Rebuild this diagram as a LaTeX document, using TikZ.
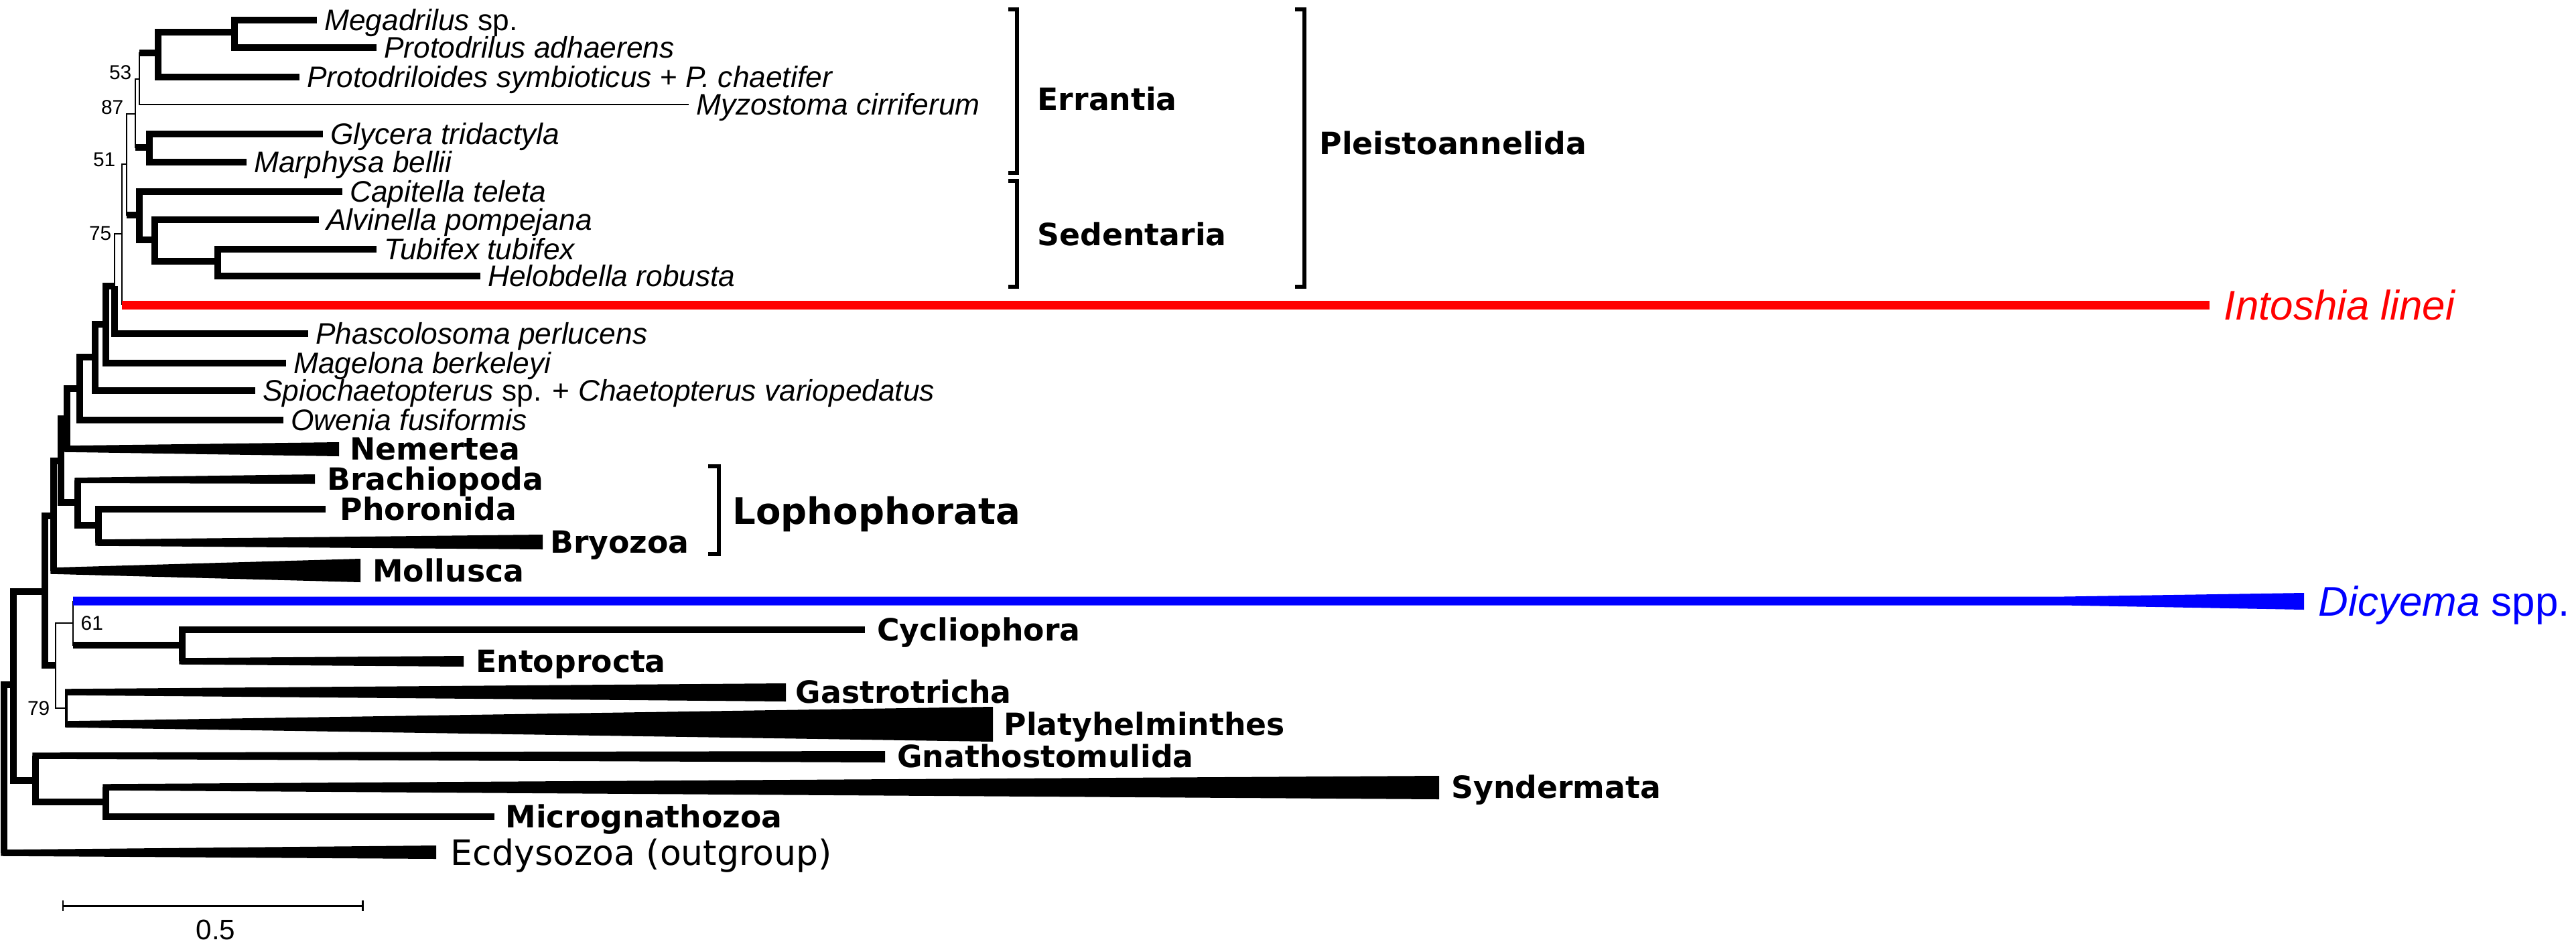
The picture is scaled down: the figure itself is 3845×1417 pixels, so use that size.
\documentclass[tikz,border=0pt]{standalone}
\usepackage{fontspec}
\setmainfont{Liberation Sans}
\newfontfamily\cladefont{DejaVu Sans}
\usetikzlibrary{calc,positioning}
\definecolor{IntoshiaRed}{HTML}{FF0000}
\definecolor{DicyemaBlue}{HTML}{0000FF}
\tikzset{
  br/.style={draw=black,line width=2.7pt},
  thinbr/.style={draw=black,line width=.7pt},
  midbr/.style={draw=black,line width=1.2pt},
  redbr/.style={draw=IntoshiaRed,line width=3.7pt},
  clade/.style={fill=black},
  bracket/.style={draw=black,line width=1.5pt},
  scalebar/.style={draw=black,line width=.85pt},
  taxon/.style={font=\fontsize{12.6}{14}\selectfont\itshape,text height=9pt,
    text depth=0pt,inner sep=0pt,anchor=west},
  group/.style={font=\cladefont\bfseries\fontsize{13}{15}\selectfont,text height=9.5pt,
    text depth=0pt,inner sep=0pt,anchor=west},
  lopho/.style={font=\cladefont\bfseries\fontsize{15.5}{18}\selectfont,text height=11.3pt,
    text depth=0pt,inner sep=0pt,anchor=west},
  outgroup/.style={font=\cladefont\fontsize{14.8}{17}\selectfont,text height=10.8pt,
    text depth=0pt,inner sep=0pt,anchor=west},
  bigtaxon/.style={font=\fontsize{17.6}{20}\selectfont,text height=12.6pt,
    text depth=0pt,inner sep=0pt,anchor=west},
  support/.style={font=\fontsize{8.5}{10}\selectfont,inner sep=0pt},
  scalelabel/.style={font=\fontsize{12}{14}\selectfont,inner sep=0pt}
}

\begin{document}
\begin{tikzpicture}[x=.01cm,y=-.01cm]
  \useasboundingbox (0,0) rectangle (3845,1417);
  % internal nodes (x of the vertical, y of the stem)
  \coordinate (nA) at (350,48);
  \coordinate (nB) at (236,79);
  \coordinate (nC) at (208,118);
  \coordinate (nD) at (202,170);
  \coordinate (nE) at (223,220);
  \coordinate (nF) at (189,245);
  \coordinate (nG) at (208,321);
  \coordinate (nH) at (231,358);
  \coordinate (nI) at (325,390);
  \coordinate (nJ) at (182,349);
  \coordinate (nK) at (171,427);
  \coordinate (nL) at (158,484);
  \coordinate (nM) at (142,533);
  \coordinate (nN) at (119,580);
  \coordinate (nO) at (100,625);
  \coordinate (nP) at (91,688);
  \coordinate (nLa) at (116,750);
  \coordinate (nLb) at (147,784);
  \coordinate (nQ) at (80,770);
  \coordinate (nR) at (67,883);
  \coordinate (nS) at (83,993);
  \coordinate (nT) at (109,930);
  \coordinate (nU) at (272,963);
  \coordinate (nV) at (99,1057);
  \coordinate (nW) at (20,1022);
  \coordinate (nX) at (53,1165);
  \coordinate (nY) at (158,1197);
  \coordinate (nZ) at (6,1148);

  % tips
  \coordinate (tMeg) at (473,30);
  \coordinate (tPdr) at (562,71);
  \coordinate (tPdl) at (447,115);
  \coordinate (tMyz) at (1028,156);
  \coordinate (tGly) at (482,200);
  \coordinate (tMar) at (368,242);
  \coordinate (tCap) at (511,286);
  \coordinate (tAlv) at (476,328);
  \coordinate (tTub) at (562,372);
  \coordinate (tHel) at (717,412);
  \coordinate (tInt) at (3298,455);
  \coordinate (tPha) at (460,498);
  \coordinate (tMag) at (427,542);
  \coordinate (tSpi) at (381,583);
  \coordinate (tOwe) at (423,627);
  \coordinate (tPho) at (486,760);
  \coordinate (tDic) at (3439,897);
  \coordinate (tCyc) at (1291,940);
  \coordinate (tMic) at (738,1219);

  % collapsed clades: start at the parent, end at the tip
  \coordinate (wNem) at (100,670);  \coordinate (tNem) at (506,670);
  \coordinate (wBra) at (116,717);  \coordinate (tBra) at (470,715);
  \coordinate (wBry) at (147,810);  \coordinate (tBry) at (810,809);
  \coordinate (wMol) at (80,852);   \coordinate (tMol) at (538,852);
  \coordinate (wEnt) at (272,987);  \coordinate (tEnt) at (692,987);
  \coordinate (wGas) at (99,1033);  \coordinate (tGas) at (1173,1033);
  \coordinate (wPla) at (99,1081);  \coordinate (tPla) at (1482,1081);
  \coordinate (wGna) at (53,1128);  \coordinate (tGna) at (1321,1129);
  \coordinate (wSyn) at (158,1175); \coordinate (tSyn) at (2148,1175);
  \coordinate (wEcd) at (6,1273);   \coordinate (tEcd) at (651,1272);

  % Pleistoannelida
  \draw[br] (nA) |- (tMeg);
  \draw[br] (nA) |- (tPdr);
  \draw[br] (nB) |- (nA);
  \draw[br] (nB) |- (tPdl);
  \draw[thinbr] (nC) |- (nB);
  \draw[br] (nC |- nB) -- (nB);
  \draw[thinbr] (nC) |- (tMyz);
  \draw[thinbr] (nD) |- (nC);
  \draw[thinbr] (nD) |- (nE);
  \draw[br] (nD |- nE) -- (nE);
  \draw[br] (nE) |- (tGly);
  \draw[br] (nE) |- (tMar);
  \draw[thinbr] (nF) |- (nD);
  \draw[thinbr] (nF) |- (nG);
  \draw[br] (nF |- nG) -- (nG);
  \draw[br] (nG) |- (tCap);
  \draw[br] (nG) |- (nH);
  \draw[br] (nH) |- (tAlv);
  \draw[br] (nH) |- (nI);
  \draw[br] (nI) |- (tTub);
  \draw[br] (nI) |- (tHel);
  \draw[thinbr] (nJ) |- (nF);
  \draw[thinbr] (nJ) -- (nJ |- tInt);
  \draw[redbr] (nJ |- tInt) -- (tInt);

  % rest of the Lophotrochozoa
  \draw[thinbr] (nK) |- (nJ);
  \draw[br] (nK) |- (tPha);
  \draw[br] (nL) |- (nK);
  \draw[br] (nL) |- (tMag);
  \draw[br] (nM) |- (nL);
  \draw[br] (nM) |- (tSpi);
  \draw[br] (nN) |- (nM);
  \draw[br] (nN) |- (tOwe);
  \draw[br] (nO) |- (nN);
  \draw[br] (nO) -- (wNem);
  \draw[br] (nP) |- (nO);
  \draw[br] (nP) |- (nLa);
  \draw[br] (nLa) -- (wBra);
  \draw[br] (nLa) |- (nLb);
  \draw[br] (nLb) |- (tPho);
  \draw[br] (nLb) -- (wBry);
  \draw[br] (nQ) |- (nP);
  \draw[br] (nQ) -- (wMol);
  \draw[br] (nR) |- (nQ);
  \draw[br] (nR) |- (nS);

  % Dicyema and the Platyzoa
  \draw[thinbr] (nS) |- (nT);
  \draw[thinbr] (nS) |- (nV);
  \draw[thinbr] (nT) -- (nT |- tDic);
  \fill[DicyemaBlue] ($(nT |- tDic)+(0,-6.5)$) -- (3080,890.5) -- ($(tDic)+(0,-12)$)
    -- ($(tDic)+(0,13)$) -- (3080,903.5) -- ($(nT |- tDic)+(0,6.5)$) -- cycle;
  \draw[thinbr] (nT) |- (nU);
  \draw[br] (nT |- nU) -- (nU);
  \draw[br] (nU) |- (tCyc);
  \draw[br] (nU) -- (wEnt);
  \draw[midbr] (nV) -- (wGas);
  \draw[midbr] (nV) -- (wPla);
  \draw[br] (nW) |- (nR);
  \draw[br] (nW) |- (nX);
  \draw[br] (nX) -- (wGna);
  \draw[br] (nX) |- (nY);
  \draw[br] (nY) -- (wSyn);
  \draw[br] (nY) |- (tMic);
  \draw[br] (nZ) |- (nW);
  \draw[br] (nZ) -- (wEcd);

  \fill[clade] ($(wNem)+(-4.7,-4.7)$) -- ($(tNem)+(0,-10)$) -- ($(tNem)+(0,11)$) -- ($(wNem)+(-4.7,4.7)$) -- cycle;
  \fill[clade] ($(wBra)+(-4.7,-4)$) -- ($(tBra)+(0,-7)$) -- ($(tBra)+(0,7)$) -- ($(wBra)+(-4.7,4)$) -- cycle;
  \fill[clade] ($(wBry)+(-4.7,-4.7)$) -- ($(tBry)+(0,-11)$) -- ($(tBry)+(0,11)$) -- ($(wBry)+(-4.7,4.7)$) -- cycle;
  \fill[clade] ($(wMol)+(-4.7,-4.7)$) -- ($(tMol)+(0,-18)$) -- ($(tMol)+(0,17)$) -- ($(wMol)+(-4.7,4.7)$) -- cycle;
  \fill[clade] ($(wEnt)+(-4.7,-4.7)$) -- ($(tEnt)+(0,-8)$) -- ($(tEnt)+(0,8)$) -- ($(wEnt)+(-4.7,4.7)$) -- cycle;
  \fill[clade] ($(wGas)+(-2,-4.7)$) -- ($(tGas)+(0,-13)$) -- ($(tGas)+(0,14)$) -- ($(wGas)+(-2,4.7)$) -- cycle;
  \fill[clade] ($(wPla)+(-2,-4.7)$) -- ($(tPla)+(0,-26)$) -- ($(tPla)+(0,26)$) -- ($(wPla)+(-2,4.7)$) -- cycle;
  \fill[clade] ($(wGna)+(-4.7,-4.7)$) -- ($(tGna)+(0,-8)$) -- ($(tGna)+(0,9)$) -- ($(wGna)+(-4.7,4.7)$) -- cycle;
  \fill[clade] ($(wSyn)+(-4.7,-4.7)$) -- ($(tSyn)+(0,-17)$) -- ($(tSyn)+(0,18)$) -- ($(wSyn)+(-4.7,4.7)$) -- cycle;
  \fill[clade] ($(wEcd)+(-4.7,-4.7)$) -- ($(tEcd)+(0,-10)$) -- ($(tEcd)+(0,10)$) -- ($(wEcd)+(-4.7,4.7)$) -- cycle;

  % support values
  \node[support,anchor=base east] (s53) at (197,118) {53};
  \node[support,anchor=base east] (s87) at (185,170) {87};
  \node[support,anchor=base east] (s51) at (173,248) {51};
  \node[support,anchor=base east] (s75) at (167,358) {75};
  \node[support,anchor=west] (s61) at (120,930) {61};
  \node[support,anchor=east] (s79) at (75,1057) {79};

  % tip labels
  \node[taxon,right=3pt of tMeg] (lMeg) {Megadrilus \textup{sp.}};
  \node[taxon,right=3pt of tPdr] (lPdr) {Protodrilus adhaerens};
  \node[taxon,right=3pt of tPdl] (lPdl) {Protodriloides symbioticus \textup{+} P. chaetifer};
  \node[taxon,right=3pt of tMyz] (lMyz) {Myzostoma cirriferum};
  \node[taxon,right=3pt of tGly] (lGly) {Glycera tridactyla};
  \node[taxon,right=3pt of tMar] (lMar) {Marphysa bellii};
  \node[taxon,right=3pt of tCap] (lCap) {Capitella teleta};
  \node[taxon,right=3pt of tAlv] (lAlv) {Alvinella pompejana};
  \node[taxon,right=3pt of tTub] (lTub) {Tubifex tubifex};
  \node[taxon,right=3pt of tHel] (lHel) {Helobdella robusta};
  \node[bigtaxon,text=IntoshiaRed,right=6pt of tInt] (lInt) {\textit{Intoshia linei}};
  \node[taxon,right=3pt of tPha] (lPha) {Phascolosoma perlucens};
  \node[taxon,right=3pt of tMag] (lMag) {Magelona berkeleyi};
  \node[taxon,right=3pt of tSpi] (lSpi)
    {Spiochaetopterus \textup{sp. +} Chaetopterus variopedatus};
  \node[taxon,right=3pt of tOwe] (lOwe) {Owenia fusiformis};
  \node[group,right=4.5pt of tNem] (lNem) {Nemertea};
  \node[group,right=5pt of tBra] (lBra) {Brachiopoda};
  \node[group,right=6pt of tPho] (lPho) {Phoronida};
  \node[group,right=3pt of tBry] (lBry) {Bryozoa};
  \node[group,right=5pt of tMol] (lMol) {Mollusca};
  \node[bigtaxon,text=DicyemaBlue,right=6pt of tDic] (lDic) {\textit{Dicyema} spp.};
  \node[group,right=5pt of tCyc] (lCyc) {Cycliophora};
  \node[group,right=5pt of tEnt] (lEnt) {Entoprocta};
  \node[group,right=4pt of tGas] (lGas) {Gastrotricha};
  \node[group,right=4.5pt of tPla] (lPla) {Platyhelminthes};
  \node[group,right=5pt of tGna] (lGna) {Gnathostomulida};
  \node[group,right=5pt of tSyn] (lSyn) {Syndermata};
  \node[group,right=4.5pt of tMic] (lMic) {Micrognathozoa};
  \node[outgroup,right=6pt of tEcd] (lEcd) {Ecdysozoa (outgroup)};

  % brackets
  \draw[bracket] (1505,14) -- (1518,14) -- (1518,258) -- (1505,258);
  \draw[bracket] (1505,270) -- (1518,270) -- (1518,428) -- (1505,428);
  \draw[bracket] (1933,14) -- (1947,14) -- (1947,428) -- (1933,428);
  \draw[bracket] (1057,696) -- (1073,696) -- (1073,827) -- (1057,827);
  \node[group] (gErr) at (1548,148) {Errantia};
  \node[group] (gSed) at (1548,350) {Sedentaria};
  \node[group] (gPle) at (1969,214) {Pleistoannelida};
  \node[lopho] (gLop) at (1093,763) {Lophophorata};

  % scale bar
  \coordinate (sbL) at (94,1352);
  \coordinate (sbR) at (541,1352);
  \draw[scalebar] (sbL) -- (sbR);
  \draw[scalebar] ($(sbL)+(0,-8)$) -- ($(sbL)+(0,8)$);
  \draw[scalebar] ($(sbR)+(0,-8)$) -- ($(sbR)+(0,8)$);
  \node[scalelabel] (lScale) at (322,1388) {0.5};
\end{tikzpicture}
\end{document}
